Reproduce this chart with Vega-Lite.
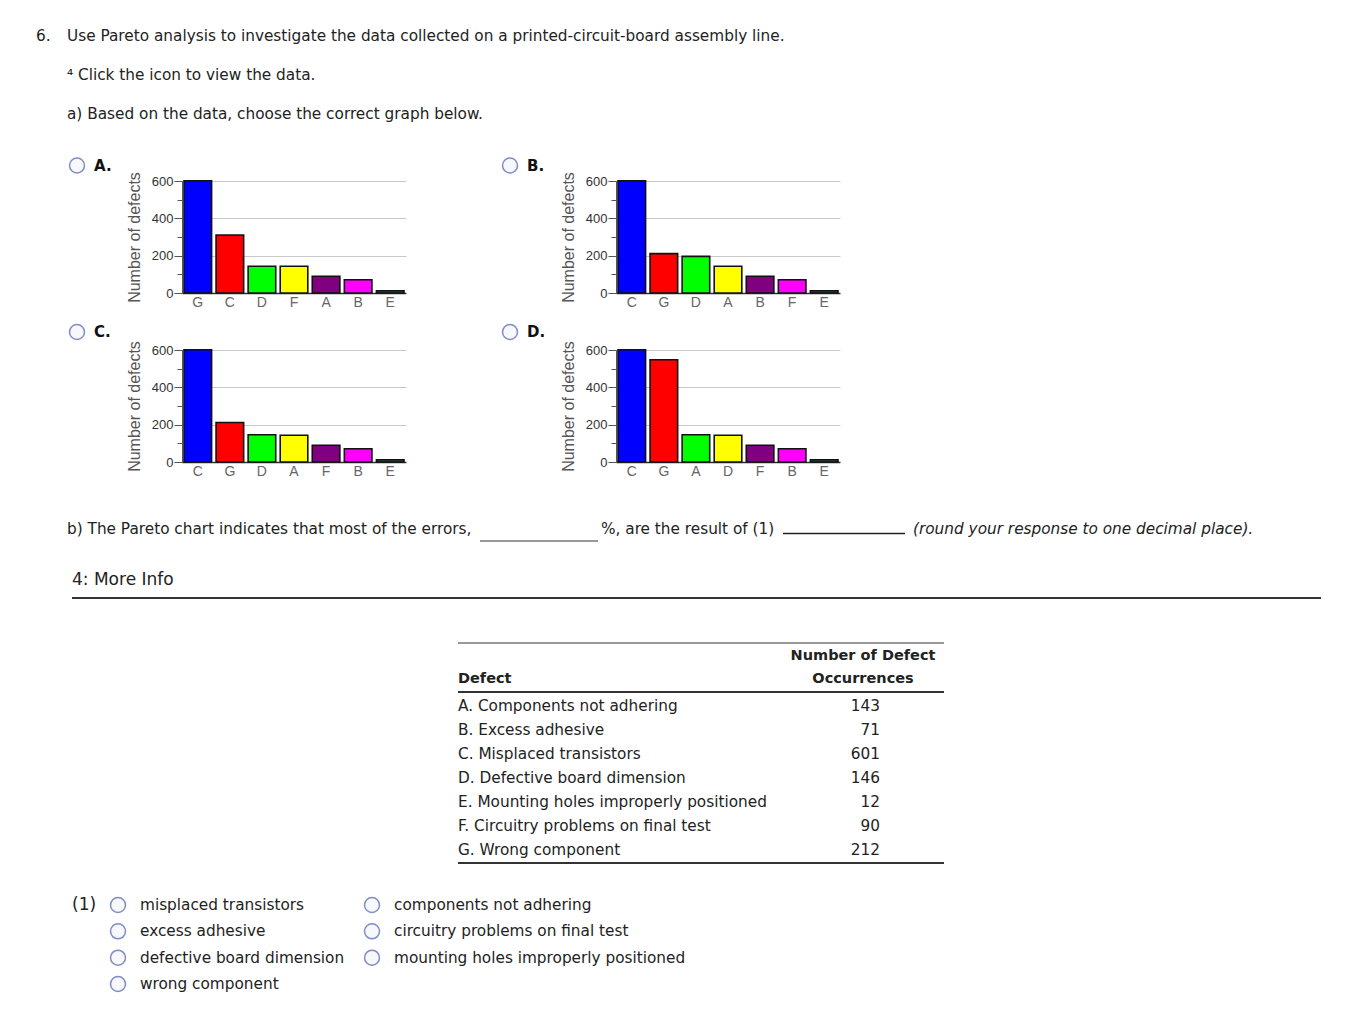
{
  "$schema": "https://vega.github.io/schema/vega-lite/v6.json",
  "padding": 0,
  "background": "white",
  "columns": 4,
  "align": "each",
  "spacing": 0,
  "bounds": "flush",
  "config": {
    "view": {"stroke": null},
    "font": "DejaVu Sans",
    "concat": {"spacing": 0},
    "text": {"font": "DejaVu Sans", "fontSize": 15.3, "color": "#222", "align": "left", "baseline": "middle"},
    "axisX": {"title": null, "labelAngle": 0, "ticks": false, "domainColor": "#333", "domainWidth": 1.5, "labelColor": "#666", "labelFont": "Liberation Sans", "labelFontSize": 14, "labelPadding": 2},
    "axisY": {"domainColor": "#555", "tickColor": "#555", "labelColor": "#333", "labelFont": "Liberation Sans", "labelFontSize": 13, "labelPadding": 1, "titleFont": "Liberation Sans", "titleFontSize": 16, "titleFontWeight": "normal", "titleColor": "#555", "titlePadding": 9, "gridColor": "#c8c8c8"},
    "bar": {"stroke": "#111", "strokeWidth": 1.6}
  },
  "datasets": {
    "header": [
      {"line": 1, "num": "6.", "text": "Use Pareto analysis to investigate the data collected on a printed-circuit-board assembly line."},
      {"line": 2, "num": "", "text": "⁴ Click the icon to view the data."},
      {"line": 3, "num": "", "text": "a) Based on the data, choose the correct graph below."}
    ],
    "options": [
      {"opt": "A", "label": "A."},
      {"opt": "B", "label": "B."},
      {"opt": "C", "label": "C."},
      {"opt": "D", "label": "D."}
    ],
    "bars": [
      {"chart": "A", "rank": 1, "defect": "G", "count": 601},
      {"chart": "A", "rank": 2, "defect": "C", "count": 311},
      {"chart": "A", "rank": 3, "defect": "D", "count": 143},
      {"chart": "A", "rank": 4, "defect": "F", "count": 143},
      {"chart": "A", "rank": 5, "defect": "A", "count": 90},
      {"chart": "A", "rank": 6, "defect": "B", "count": 71},
      {"chart": "A", "rank": 7, "defect": "E", "count": 12},
      {"chart": "B", "rank": 1, "defect": "C", "count": 601},
      {"chart": "B", "rank": 2, "defect": "G", "count": 211},
      {"chart": "B", "rank": 3, "defect": "D", "count": 196},
      {"chart": "B", "rank": 4, "defect": "A", "count": 143},
      {"chart": "B", "rank": 5, "defect": "B", "count": 90},
      {"chart": "B", "rank": 6, "defect": "F", "count": 71},
      {"chart": "B", "rank": 7, "defect": "E", "count": 12},
      {"chart": "C", "rank": 1, "defect": "C", "count": 601},
      {"chart": "C", "rank": 2, "defect": "G", "count": 212},
      {"chart": "C", "rank": 3, "defect": "D", "count": 146},
      {"chart": "C", "rank": 4, "defect": "A", "count": 143},
      {"chart": "C", "rank": 5, "defect": "F", "count": 90},
      {"chart": "C", "rank": 6, "defect": "B", "count": 71},
      {"chart": "C", "rank": 7, "defect": "E", "count": 12},
      {"chart": "D", "rank": 1, "defect": "C", "count": 601},
      {"chart": "D", "rank": 2, "defect": "G", "count": 548},
      {"chart": "D", "rank": 3, "defect": "A", "count": 146},
      {"chart": "D", "rank": 4, "defect": "D", "count": 143},
      {"chart": "D", "rank": 5, "defect": "F", "count": 90},
      {"chart": "D", "rank": 6, "defect": "B", "count": 71},
      {"chart": "D", "rank": 7, "defect": "E", "count": 12}
    ],
    "table": [
      {"code": "A", "name": "A. Components not adhering", "count": 143},
      {"code": "B", "name": "B. Excess adhesive", "count": 71},
      {"code": "C", "name": "C. Misplaced transistors", "count": 601},
      {"code": "D", "name": "D. Defective board dimension", "count": 146},
      {"code": "E", "name": "E. Mounting holes improperly positioned", "count": 12},
      {"code": "F", "name": "F. Circuitry problems on final test", "count": 90},
      {"code": "G", "name": "G. Wrong component", "count": 212}
    ],
    "answers": [
      {"col": 1, "row": 1, "label": "misplaced transistors"},
      {"col": 1, "row": 2, "label": "excess adhesive"},
      {"col": 1, "row": 3, "label": "defective board dimension"},
      {"col": 1, "row": 4, "label": "wrong component"},
      {"col": 2, "row": 1, "label": "components not adhering"},
      {"col": 2, "row": 2, "label": "circuitry problems on final test"},
      {"col": 2, "row": 3, "label": "mounting holes improperly positioned"}
    ]
  },
  "concat": [
    {
      "width": 182,
      "height": 150,
      "data": {"name": "header"},
      "encoding": {
        "y": {"field": "line", "type": "ordinal", "scale": {"type": "point", "padding": 0.923}, "axis": null}
      },
      "layer": [
        {"mark": {"type": "text"}, "encoding": {"x": {"value": 36}, "text": {"field": "num"}}},
        {"mark": {"type": "text"}, "encoding": {"x": {"value": 67}, "text": {"field": "text"}}}
      ]
    },
    {"width": 1, "height": 1, "data": {"values": []}, "mark": "point"},
    {"width": 1, "height": 1, "data": {"values": []}, "mark": "point"},
    {"width": 1, "height": 1, "data": {"values": []}, "mark": "point"},

    {
      "width": 182,
      "height": 31,
      "data": {"name": "options"},
      "transform": [{"filter": "datum.opt === 'A' || datum.opt === 'B'"}],
      "encoding": {
        "x": {"field": "opt", "type": "nominal", "scale": {"type": "point", "range": [77, 510], "padding": 0}, "axis": null}
      },
      "layer": [
        {"mark": {"type": "point", "shape": "circle", "size": 225, "filled": true, "fill": "#f7f8fc", "stroke": "#7f8cc6", "strokeWidth": 1.5, "opacity": 1}},
        {"mark": {"type": "text", "dx": 17, "fontWeight": "bold", "fontSize": 15, "color": "#111"}, "encoding": {"text": {"field": "label"}}}
      ]
    },
    {"width": 1, "height": 1, "data": {"values": []}, "mark": "point"},
    {"width": 1, "height": 1, "data": {"values": []}, "mark": "point"},
    {"width": 1, "height": 1, "data": {"values": []}, "mark": "point"},

    {"width": 182, "height": 112, "data": {"values": []}, "mark": "point"},
    {
      "width": 224, "height": 112,
      "data": {"name": "bars"},
      "transform": [{"filter": "datum.chart === 'A'"}],
      "mark": {"type": "bar"},
      "encoding": {
        "x": {"field": "defect", "type": "nominal", "sort": {"field": "rank", "op": "min"}, "scale": {"paddingInner": 0.14, "paddingOuter": 0.0625}},
        "y": {"field": "count", "type": "quantitative", "scale": {"domain": [0, 600], "nice": false},
          "axis": {"title": "Number of defects", "values": [0, 100, 200, 300, 400, 500, 600], "labelExpr": "datum.value % 200 === 0 ? datum.label : ''",
            "tickSize": {"condition": {"test": "datum.value % 200 === 0", "value": 8}, "value": 5},
            "grid": true, "gridOpacity": {"condition": {"test": "datum.value % 200 === 0 && datum.value > 0", "value": 1}, "value": 0}}},
        "color": {"field": "rank", "type": "ordinal", "scale": {"domain": [1, 2, 3, 4, 5, 6, 7], "range": ["#0000ff", "#ff0000", "#00ff00", "#ffff00", "#800080", "#ff00ff", "#2f4f4f"]}, "legend": null}
      }
    },
    {"width": 210, "height": 112, "data": {"values": []}, "mark": "point"},
    {
      "width": 224, "height": 112,
      "data": {"name": "bars"},
      "transform": [{"filter": "datum.chart === 'B'"}],
      "mark": {"type": "bar"},
      "encoding": {
        "x": {"field": "defect", "type": "nominal", "sort": {"field": "rank", "op": "min"}, "scale": {"paddingInner": 0.14, "paddingOuter": 0.0625}},
        "y": {"field": "count", "type": "quantitative", "scale": {"domain": [0, 600], "nice": false},
          "axis": {"title": "Number of defects", "values": [0, 100, 200, 300, 400, 500, 600], "labelExpr": "datum.value % 200 === 0 ? datum.label : ''",
            "tickSize": {"condition": {"test": "datum.value % 200 === 0", "value": 8}, "value": 5},
            "grid": true, "gridOpacity": {"condition": {"test": "datum.value % 200 === 0 && datum.value > 0", "value": 1}, "value": 0}}},
        "color": {"field": "rank", "type": "ordinal", "scale": {"domain": [1, 2, 3, 4, 5, 6, 7], "range": ["#0000ff", "#ff0000", "#00ff00", "#ffff00", "#800080", "#ff00ff", "#2f4f4f"]}, "legend": null}
      }
    },

    {"width": 1, "height": 21, "data": {"values": []}, "mark": "point"},
    {"width": 1, "height": 1, "data": {"values": []}, "mark": "point"},
    {"width": 1, "height": 1, "data": {"values": []}, "mark": "point"},
    {"width": 1, "height": 1, "data": {"values": []}, "mark": "point"},

    {
      "width": 182,
      "height": 36,
      "data": {"name": "options"},
      "transform": [{"filter": "datum.opt === 'C' || datum.opt === 'D'"}],
      "encoding": {
        "x": {"field": "opt", "type": "nominal", "scale": {"type": "point", "range": [77, 510], "padding": 0}, "axis": null}
      },
      "layer": [
        {"mark": {"type": "point", "shape": "circle", "size": 225, "filled": true, "fill": "#f7f8fc", "stroke": "#7f8cc6", "strokeWidth": 1.5, "opacity": 1}},
        {"mark": {"type": "text", "dx": 17, "fontWeight": "bold", "fontSize": 15, "color": "#111"}, "encoding": {"text": {"field": "label"}}}
      ]
    },
    {"width": 1, "height": 1, "data": {"values": []}, "mark": "point"},
    {"width": 1, "height": 1, "data": {"values": []}, "mark": "point"},
    {"width": 1, "height": 1, "data": {"values": []}, "mark": "point"},

    {"width": 182, "height": 112, "data": {"values": []}, "mark": "point"},
    {
      "width": 224, "height": 112,
      "data": {"name": "bars"},
      "transform": [{"filter": "datum.chart === 'C'"}],
      "mark": {"type": "bar"},
      "encoding": {
        "x": {"field": "defect", "type": "nominal", "sort": {"field": "rank", "op": "min"}, "scale": {"paddingInner": 0.14, "paddingOuter": 0.0625}},
        "y": {"field": "count", "type": "quantitative", "scale": {"domain": [0, 600], "nice": false},
          "axis": {"title": "Number of defects", "values": [0, 100, 200, 300, 400, 500, 600], "labelExpr": "datum.value % 200 === 0 ? datum.label : ''",
            "tickSize": {"condition": {"test": "datum.value % 200 === 0", "value": 8}, "value": 5},
            "grid": true, "gridOpacity": {"condition": {"test": "datum.value % 200 === 0 && datum.value > 0", "value": 1}, "value": 0}}},
        "color": {"field": "rank", "type": "ordinal", "scale": {"domain": [1, 2, 3, 4, 5, 6, 7], "range": ["#0000ff", "#ff0000", "#00ff00", "#ffff00", "#800080", "#ff00ff", "#2f4f4f"]}, "legend": null}
      }
    },
    {"width": 210, "height": 112, "data": {"values": []}, "mark": "point"},
    {
      "width": 224, "height": 112,
      "data": {"name": "bars"},
      "transform": [{"filter": "datum.chart === 'D'"}],
      "mark": {"type": "bar"},
      "encoding": {
        "x": {"field": "defect", "type": "nominal", "sort": {"field": "rank", "op": "min"}, "scale": {"paddingInner": 0.14, "paddingOuter": 0.0625}},
        "y": {"field": "count", "type": "quantitative", "scale": {"domain": [0, 600], "nice": false},
          "axis": {"title": "Number of defects", "values": [0, 100, 200, 300, 400, 500, 600], "labelExpr": "datum.value % 200 === 0 ? datum.label : ''",
            "tickSize": {"condition": {"test": "datum.value % 200 === 0", "value": 8}, "value": 5},
            "grid": true, "gridOpacity": {"condition": {"test": "datum.value % 200 === 0 && datum.value > 0", "value": 1}, "value": 0}}},
        "color": {"field": "rank", "type": "ordinal", "scale": {"domain": [1, 2, 3, 4, 5, 6, 7], "range": ["#0000ff", "#ff0000", "#00ff00", "#ffff00", "#800080", "#ff00ff", "#2f4f4f"]}, "legend": null}
      }
    },

    {
      "width": 182,
      "height": 158,
      "layer": [
        {"data": {"values": [{"t": "b) The Pareto chart indicates that most of the errors,"}]}, "mark": {"type": "text"}, "encoding": {"x": {"value": 67}, "y": {"value": 67}, "text": {"field": "t"}}},
        {"data": {"values": [{"t": "%, are the result of  (1)"}]}, "mark": {"type": "text"}, "encoding": {"x": {"value": 601}, "y": {"value": 67}, "text": {"field": "t"}}},
        {"data": {"values": [{"t": "(round your response to one decimal place)."}]}, "mark": {"type": "text", "fontStyle": "italic"}, "encoding": {"x": {"value": 913}, "y": {"value": 67}, "text": {"field": "t"}}},
        {"data": {"values": [{}]}, "mark": {"type": "rule", "color": "#333", "strokeWidth": 1}, "encoding": {"x": {"value": 480}, "x2": {"value": 598}, "y": {"value": 79}}},
        {"data": {"values": [{}]}, "mark": {"type": "rule", "color": "#222", "strokeWidth": 1.5}, "encoding": {"x": {"value": 783}, "x2": {"value": 905}, "y": {"value": 71.5}}},
        {"data": {"values": [{"t": "4: More Info"}]}, "mark": {"type": "text", "fontSize": 17}, "encoding": {"x": {"value": 72}, "y": {"value": 118}, "text": {"field": "t"}}},
        {"data": {"values": [{}]}, "mark": {"type": "rule", "color": "#333", "strokeWidth": 2}, "encoding": {"x": {"value": 72}, "x2": {"value": 1321}, "y": {"value": 136}}}
      ]
    },
    {"width": 1, "height": 1, "data": {"values": []}, "mark": "point"},
    {"width": 1, "height": 1, "data": {"values": []}, "mark": "point"},
    {"width": 1, "height": 1, "data": {"values": []}, "mark": "point"},

    {
      "width": 182,
      "height": 272,
      "layer": [
        {"data": {"values": [{}]}, "mark": {"type": "rule", "color": "#333", "strokeWidth": 1}, "encoding": {"x": {"value": 458}, "x2": {"value": 944}, "y": {"value": 23}}},
        {"data": {"values": [{"t": "Number of Defect"}]}, "mark": {"type": "text", "fontWeight": "bold", "fontSize": 14.5, "align": "center"}, "encoding": {"x": {"value": 863}, "y": {"value": 36}, "text": {"field": "t"}}},
        {"data": {"values": [{"t": "Occurrences"}]}, "mark": {"type": "text", "fontWeight": "bold", "fontSize": 14.5, "align": "center"}, "encoding": {"x": {"value": 863}, "y": {"value": 59}, "text": {"field": "t"}}},
        {"data": {"values": [{"t": "Defect"}]}, "mark": {"type": "text", "fontWeight": "bold", "fontSize": 14.5}, "encoding": {"x": {"value": 458}, "y": {"value": 59}, "text": {"field": "t"}}},
        {"data": {"values": [{}]}, "mark": {"type": "rule", "color": "#333", "strokeWidth": 2}, "encoding": {"x": {"value": 458}, "x2": {"value": 944}, "y": {"value": 72}}},
        {
          "data": {"name": "table"},
          "encoding": {"y": {"field": "code", "type": "ordinal", "scale": {"type": "point", "range": [86, 230], "padding": 0}, "axis": null}},
          "layer": [
            {"mark": {"type": "text"}, "encoding": {"x": {"value": 458}, "text": {"field": "name"}}},
            {"mark": {"type": "text", "align": "right"}, "encoding": {"x": {"value": 880}, "text": {"field": "count", "type": "quantitative"}}}
          ]
        },
        {"data": {"values": [{}]}, "mark": {"type": "rule", "color": "#333", "strokeWidth": 2}, "encoding": {"x": {"value": 458}, "x2": {"value": 944}, "y": {"value": 243}}}
      ]
    },
    {"width": 1, "height": 1, "data": {"values": []}, "mark": "point"},
    {"width": 1, "height": 1, "data": {"values": []}, "mark": "point"},
    {"width": 1, "height": 1, "data": {"values": []}, "mark": "point"},

    {
      "width": 182,
      "height": 105,
      "layer": [
        {
          "data": {"name": "answers"},
          "encoding": {
            "x": {"field": "col", "type": "ordinal", "scale": {"type": "point", "range": [118, 372], "padding": 0}, "axis": null},
            "y": {"field": "row", "type": "ordinal", "scale": {"type": "point", "padding": 0.494}, "axis": null}
          },
          "layer": [
            {"mark": {"type": "point", "shape": "circle", "size": 225, "filled": true, "fill": "#f7f8fc", "stroke": "#7f8cc6", "strokeWidth": 1.5, "opacity": 1}},
            {"mark": {"type": "text", "dx": 22}, "encoding": {"text": {"field": "label"}}}
          ]
        },
        {"data": {"values": [{"t": "(1)"}]}, "mark": {"type": "text", "fontSize": 17}, "encoding": {"x": {"value": 72}, "y": {"value": 13}, "text": {"field": "t"}}}
      ]
    }
  ]
}
